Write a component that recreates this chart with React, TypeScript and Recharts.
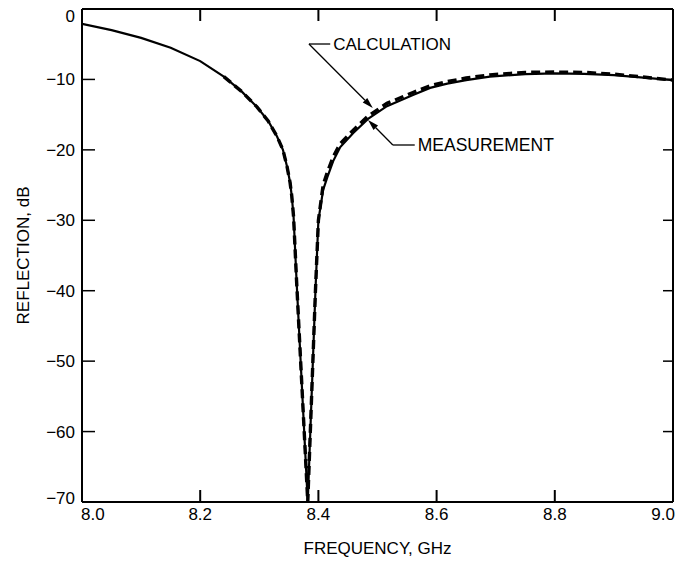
import { LineChart, Line, XAxis, YAxis, ReferenceLine, ReferenceDot } from 'recharts';

const FONT = '"Liberation Sans", Arial, Helvetica, sans-serif';

// calculated curve: frequency (GHz) and reflection (dB)
const calcFreq = [
  8.0, 8.05, 8.1, 8.15, 8.2, 8.24, 8.27, 8.296, 8.315, 8.33, 8.34, 8.347, 8.352, 8.355,
  8.358, 8.363, 8.382, 8.395, 8.4, 8.408, 8.415, 8.425, 8.437, 8.459, 8.484, 8.516, 8.56,
  8.589, 8.618, 8.65, 8.69, 8.75, 8.8, 8.85, 8.9, 8.93, 9.0,
];
const calculation = [
  -2.1, -3.0, -4.1, -5.5, -7.4, -9.6, -11.7, -13.9, -15.9, -18.1, -20.0, -22.4, -24.6, -26.6,
  -29.5, -38.5, -70, -40, -30, -25.7, -23.9, -21.6, -19.6, -17.6, -15.6, -13.8, -12.2,
  -11.2, -10.6, -10.1, -9.6, -9.25, -9.15, -9.2, -9.4, -9.6, -10.1,
];

// measured curve (dashed)
const measFreq = [
  8.24, 8.27, 8.296, 8.315, 8.33, 8.34, 8.347, 8.352, 8.355, 8.358, 8.363, 8.382, 8.395,
  8.4, 8.408, 8.415, 8.425, 8.437, 8.459, 8.484, 8.516, 8.56, 8.589, 8.618, 8.65, 8.69,
  8.75, 8.8, 8.85, 8.9, 8.93, 9.0,
];
const measurement = [
  -9.6, -11.7, -13.9, -15.9, -18.1, -20.0, -22.4, -24.6, -26.6, -29.5, -38.5, -70, -40,
  -30, -25.0, -23.2, -21.0, -19.1, -17.2, -15.2, -13.4, -11.85, -10.9, -10.3, -9.8, -9.35,
  -9.0, -8.95, -9.0, -9.25, -9.5, -10.1,
];

const xTicks = [8.0, 8.2, 8.4, 8.6, 8.8, 9.0];
const yTicks = [0, -10, -20, -30, -40, -50, -60, -70];
const innerXTicks = xTicks.slice(1, -1);
const xTickLen = 1.7; // inward tick length on the top/bottom frame, in dB

// leader lines: [end of horizontal stroke by the text, corner, arrow tip]
const calcLeader = [
  { x: 8.42, y: -4.97 },
  { x: 8.384, y: -4.97 },
  { x: 8.492, y: -14.06 },
];
const measLeader = [
  { x: 8.563, y: -19.31 },
  { x: 8.526, y: -19.31 },
  { x: 8.484, y: -15.76 },
];

const calcData = calcFreq.map((f, i) => ({ f, db: calculation[i] }));
const measData = measFreq.map((f, i) => ({ f, db: measurement[i] }));

const AXIS = { stroke: '#000', strokeWidth: 2 };
const yMin = yTicks[yTicks.length - 1];
const yMax = yTicks[0];

function XTick(props: any) {
  const { x, y, payload } = props;
  const v = Number(payload.value);
  const first = v === xTicks[0];
  const last = v === xTicks[xTicks.length - 1];
  const anchor = first ? 'start' : last ? 'end' : 'middle';
  const shift = first ? -1 : last ? 2 : 0;
  return (
    <text x={x + shift} y={y} dy="0.71em" textAnchor={anchor} fontSize={17} fontFamily={FONT} fill="#000">
      {v.toFixed(1)}
    </text>
  );
}

// left axis: label plus an inward tick
function YTick(props: any) {
  const { x, y, payload } = props;
  const v = payload.value as number;
  const shift = v === yMax ? 7 : v === yMin ? -4 : 0;
  const showLine = v !== yMax && v !== yMin;
  return (
    <g>
      {showLine && <line x1={x + 7} x2={x + 20} y1={y} y2={y} stroke="#000" strokeWidth={1.5} />}
      <text x={x} y={y + shift} dy="0.355em" textAnchor="end" fontSize={17} fontFamily={FONT} fill="#000">
        {v < 0 ? `\u2212${Math.abs(v)}` : String(v)}
      </text>
    </g>
  );
}

function RightTick(props: any) {
  const { x, y, payload } = props;
  const v = payload.value as number;
  if (v === yMax || v === yMin) return <g />;
  return <line x1={x} x2={x - 10} y1={y} y2={y} stroke="#000" strokeWidth={1.5} />;
}

function Arrow(props: any) {
  const { x1, y1, x2, y2 } = props;
  const ang = Math.atan2(y2 - y1, x2 - x1);
  const len = 11;
  const half = 3.2;
  const bx = x2 - len * Math.cos(ang);
  const by = y2 - len * Math.sin(ang);
  const px = -Math.sin(ang) * half;
  const py = Math.cos(ang) * half;
  return (
    <g>
      <line x1={x1} y1={y1} x2={bx} y2={by} stroke="#000" strokeWidth={1.3} />
      <polygon points={`${x2},${y2} ${bx + px},${by + py} ${bx - px},${by - py}`} fill="#000" />
    </g>
  );
}

export default function App() {
  return (
    <div style={{ position: 'absolute', left: 0, top: 0, background: '#fff', fontFamily: FONT }}>
      <LineChart width={678} height={564} margin={{ top: 9, right: 5, bottom: 0, left: 0 }}>
        <XAxis
          dataKey="f"
          type="number"
          domain={[8, 9]}
          ticks={xTicks}
          allowDataOverflow
          height={62}
          tickSize={0}
          tickMargin={6}
          axisLine={AXIS}
          tickLine={false}
          tick={(p: any) => <XTick {...p} />}
          label={{ value: 'FREQUENCY, GHz', position: 'insideBottom', offset: 10, fill: '#000', fontSize: 17 }}
        />
        <YAxis
          type="number"
          domain={[yMin, yMax]}
          ticks={yTicks}
          allowDataOverflow
          width={82}
          tickSize={0}
          tickMargin={7}
          axisLine={AXIS}
          tickLine={false}
          tick={(p: any) => <YTick {...p} />}
          label={{
            value: 'REFLECTION, dB',
            angle: -90,
            position: 'insideLeft',
            offset: 23,
            fill: '#000',
            fontSize: 17,
            style: { textAnchor: 'middle' },
          }}
        />
        <XAxis
          xAxisId="top"
          orientation="top"
          mirror
          type="number"
          domain={[8, 9]}
          ticks={xTicks}
          allowDataOverflow
          height={1}
          axisLine={AXIS}
          tickLine={false}
          tick={false}
        />
        <YAxis
          yAxisId="right"
          orientation="right"
          mirror
          type="number"
          domain={[yMin, yMax]}
          ticks={yTicks}
          allowDataOverflow
          width={1}
          tickSize={0}
          tickMargin={0}
          axisLine={AXIS}
          tickLine={false}
          tick={(p: any) => <RightTick {...p} />}
        />
        {innerXTicks.map((t) => (
          <ReferenceLine
            key={`b${t}`}
            segment={[{ x: t, y: yMin }, { x: t, y: yMin + xTickLen }]}
            stroke="#000"
            strokeWidth={2}
            ifOverflow="visible"
          />
        ))}
        {innerXTicks.map((t) => (
          <ReferenceLine
            key={`t${t}`}
            segment={[{ x: t, y: yMax }, { x: t, y: yMax - xTickLen }]}
            stroke="#000"
            strokeWidth={2}
            ifOverflow="visible"
          />
        ))}
        <Line
          data={calcData}
          dataKey="db"
          type="linear"
          stroke="#000"
          strokeWidth={2.2}
          dot={false}
          isAnimationActive={false}
        />
        <Line
          data={measData}
          dataKey="db"
          type="linear"
          stroke="#000"
          strokeWidth={3.4}
          strokeDasharray="9 5"
          dot={false}
          isAnimationActive={false}
        />
        <ReferenceLine segment={[calcLeader[0], calcLeader[1]]} stroke="#000" strokeWidth={1.3} ifOverflow="visible" />
        <ReferenceLine segment={[calcLeader[1], calcLeader[2]]} shape={(p: any) => <Arrow {...p} />} ifOverflow="visible" />
        <ReferenceLine segment={[measLeader[0], measLeader[1]]} stroke="#000" strokeWidth={1.3} ifOverflow="visible" />
        <ReferenceLine segment={[measLeader[1], measLeader[2]]} shape={(p: any) => <Arrow {...p} />} ifOverflow="visible" />
        <ReferenceDot
          x={calcLeader[0].x}
          y={calcLeader[0].y}
          r={0}
          stroke="none"
          ifOverflow="visible"
          label={{ value: 'CALCULATION', position: 'right', offset: 3, fill: '#000', fontSize: 17 }}
        />
        <ReferenceDot
          x={measLeader[0].x}
          y={measLeader[0].y}
          r={0}
          stroke="none"
          ifOverflow="visible"
          label={{ value: 'MEASUREMENT', position: 'right', offset: 3, fill: '#000', fontSize: 17.5 }}
        />
      </LineChart>
    </div>
  );
}
